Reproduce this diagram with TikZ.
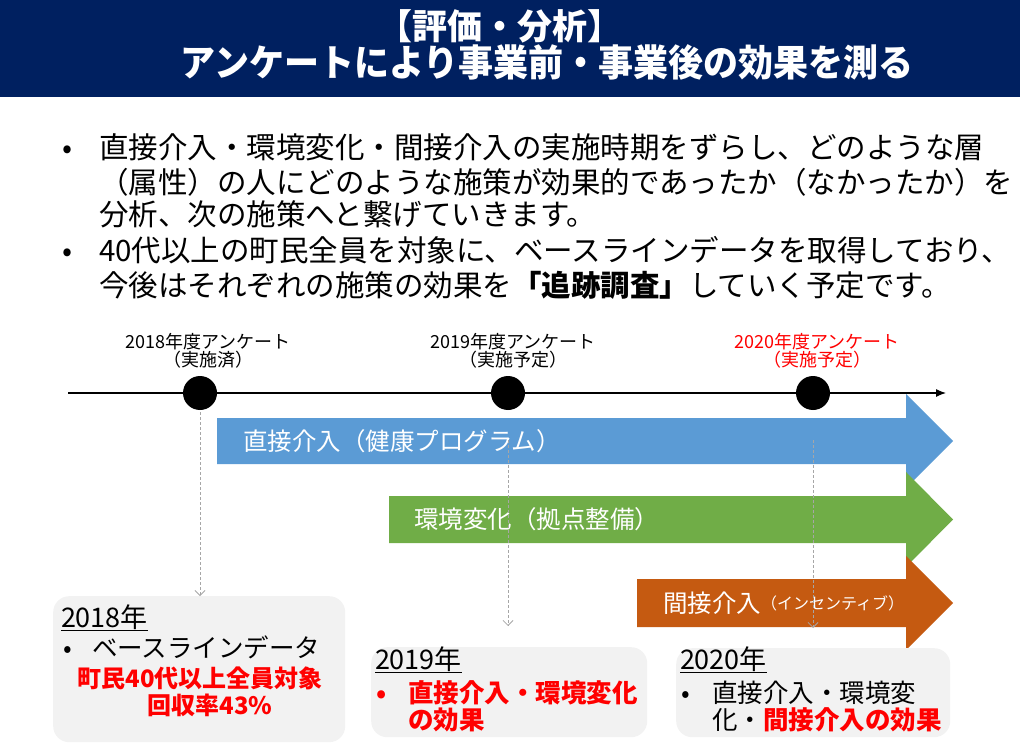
\documentclass[tikz,border=0pt]{standalone}
\usepackage{fontspec}
\setmainfont{Noto Sans CJK JP}
\usetikzlibrary{arrows.meta}
\definecolor{navy}{HTML}{002060}
\definecolor{arrblue}{HTML}{5B9BD5}
\definecolor{arrgreen}{HTML}{70AD47}
\definecolor{arrorange}{HTML}{C55A11}
\definecolor{boxgray}{HTML}{F2F2F2}
\definecolor{guidegray}{HTML}{A6A6A6}
\definecolor{hired}{HTML}{FF0000}
\newcommand{\fsz}[1]{\fontsize{#1}{#1}\selectfont}
\begin{document}
\begin{tikzpicture}[x=1pt,y=-1pt,
  sz/.code={\pgfmathsetmacro\mytth{0.88*#1}\pgfmathsetmacro\myttd{0.12*#1}%
    \edef\mytmp{\noexpand\tikzset{text height=\mytth pt, text depth=\myttd pt}}\mytmp},
  txt/.style={inner sep=0pt, outer sep=0pt},
  titletxt/.style={txt, sz=34, text=white, font=\fsz{35}\bfseries},
  bodytxt/.style={txt, sz=29.5, font=\fsz{29.5}},
  tltxt/.style={txt, sz=18, font=\fsz{18}},
  arrtxt/.style={txt, sz=24.5, text=white, font=\fsz{24.5}},
  boxtxt/.style={txt, sz=25.5, font=\fsz{25.5}},
  yeartxt/.style={inner sep=0pt, outer sep=0pt, font=\fsz{27}},
  redbold/.style={txt, sz=25.5, text=hired, font=\fsz{25.5}\bfseries},
  dot/.style={circle, fill=black, minimum size=34pt, inner sep=0pt},
  gbox/.style={rounded corners=16pt, fill=boxgray, inner sep=0pt, anchor=north west},
  guide/.style={draw=guidegray, line width=0.8pt, dash pattern=on 3pt off 2pt, -{Straight Barb[length=5pt,width=10pt]}}
]
\useasboundingbox (0,0) rectangle (1020,754);
% title bar
\fill[navy] (0,0) rectangle (1020,97);
\node[titletxt] (t1) at (500,27) {【評価・分析】};
\node[titletxt] (t2) at (547,64) {\scalebox{1}[1.06]{アンケートにより事業前・事業後の効果を測る}};
% body text
\node[bodytxt] (d1) at (68,147) {•};
\node[bodytxt, anchor=west] (b1) at (99,147) {直接介入・環境変化・間接介入の実施時期をずらし、どのような層};
\node[bodytxt, anchor=west] (b2) at (99,182) {（属性）の人にどのような施策が効果的であったか（なかったか）を};
\node[bodytxt, anchor=west] (b3) at (99,214) {分析、次の施策へと繋げていきます。};
\node[bodytxt] (d2) at (68,250) {•};
\node[bodytxt, anchor=west] (b4) at (99,250) {40代以上の町民全員を対象に、ベースラインデータを取得しており、};
\node[bodytxt, anchor=west] (b5) at (99,285) {今後はそれぞれの施策の効果を{\bfseries 「追跡調査」}していく予定です。};
% timeline labels
\node[tltxt] (l1a) at (208,342) {2018年度アンケート};
\node[tltxt] (l1b) at (208,360) {（実施済）};
\node[tltxt] (l2a) at (513,342) {2019年度アンケート};
\node[tltxt] (l2b) at (513,360) {（実施予定）};
\node[tltxt, text=hired] (l3a) at (817,342) {2020年度アンケート};
\node[tltxt, text=hired] (l3b) at (817,360) {（実施予定）};
% timeline
\coordinate (tl0) at (68,393);
\coordinate (tl1) at (946,393);
\draw[line width=1.2pt, -{Latex[length=10pt,width=8pt]}] (tl0) -- (tl1);
\node[dot] (p1) at (200,393) {};
\node[dot] (p2) at (508,393) {};
\node[dot] (p3) at (813,393) {};
% block arrows
\fill[arrblue] (217,418) -- (906,418) -- (906,394) -- (953,441) -- (906,488) -- (906,464) -- (217,464) -- cycle;
\fill[arrgreen] (389,496) -- (906,496) -- (906,472) -- (953,519.5) -- (906,567) -- (906,543) -- (389,543) -- cycle;
\fill[arrorange] (637,579) -- (906,579) -- (906,556) -- (953,603) -- (906,650) -- (906,627) -- (637,627) -- cycle;
\node[arrtxt, anchor=west] (a1) at (243,441) {直接介入（健康プログラム）};
\node[arrtxt, anchor=west] (a2) at (414,519) {環境変化（拠点整備）};
\node[arrtxt, anchor=west] (a3) at (663,603) {間接介入\raisebox{3.2pt}{\fsz{16}（インセンティブ）}};
% boxes
\node[gbox, minimum width=292pt, minimum height=146pt] (box1) at (53,596) {};
\node[gbox, minimum width=276pt, minimum height=90pt] (box2) at (371,647) {};
\node[gbox, minimum width=274pt, minimum height=89pt] (box3) at (676,648) {};
% guide arrows
\coordinate (s1) at (200,412);
\coordinate (s2) at (508,440);
\coordinate (e2) at (508,626);
\coordinate (s3) at (813,440);
\coordinate (e3) at (813,628);
\draw[guide] (s1) -- (s1 |- box1.north);
\draw[guide] (s2) -- (e2);
\draw[guide] (s3) -- (e3);
% box 1 text
\node[yeartxt, anchor=base west] (y1) at (61,627) {\underline{2018年}};
\node[boxtxt] (k1) at (68,648) {•};
\node[boxtxt, anchor=west] (k1t) at (92,648) {ベースラインデータ};
\node[redbold, sz=24, font=\fsz{24}\bfseries] (r1) at (200,678) {町民40代以上全員対象};
\node[redbold, sz=24, font=\fsz{24}\bfseries] (r2) at (210,705) {回収率43\%};
% box 2 text
\node[yeartxt, anchor=base west] (y2) at (375,669) {\underline{2019年}};
\node[redbold] (k2) at (382,693) {•};
\node[redbold, anchor=west] (k2t) at (408,693) {直接介入・環境変化};
\node[redbold, anchor=west] (k2u) at (408,720) {の効果};
% box 3 text
\node[yeartxt, anchor=base west] (y3) at (680,669) {\underline{2020年}};
\node[boxtxt] (k3) at (686,693) {•};
\node[boxtxt, anchor=west] (k3t) at (712,693) {直接介入・環境変};
\node[boxtxt, anchor=west] (k3u) at (712,720) {化・{\bfseries\color{hired}間接介入の効果}};
\end{tikzpicture}
\end{document}
